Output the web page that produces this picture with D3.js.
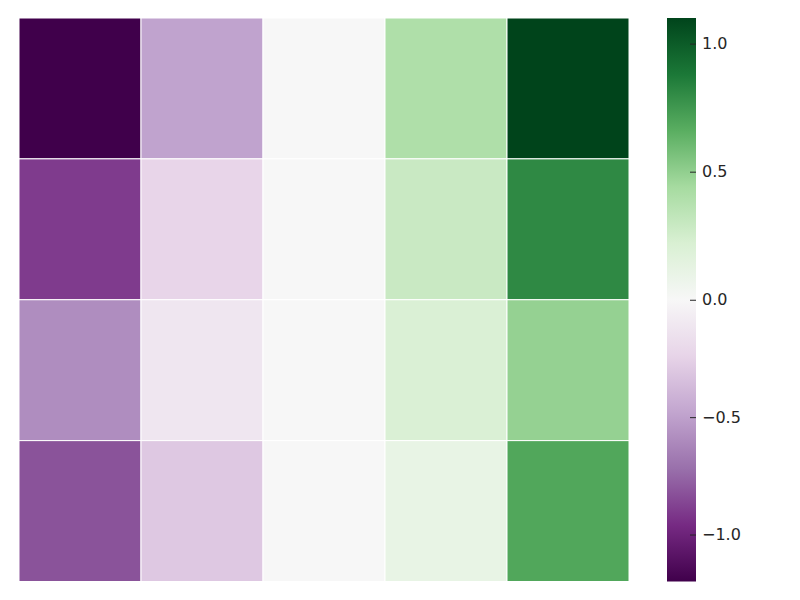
<!DOCTYPE html>
<html>
<head>
<meta charset="utf-8">
<script src="https://cdn.jsdelivr.net/npm/d3@7"></script>
<style>
  body { margin: 0; background: #fff; }
  text { font-family: "DejaVu Sans", sans-serif; }
</style>
</head>
<body>
<svg id="chart" width="800" height="600"></svg>
<script>
// ---- data ----
const rows = ["r0", "r1", "r2", "r3"];
const cols = ["c0", "c1", "c2", "c3", "c4"];
const row0 = [-1.2, -0.49, 0.0, 0.40, 1.1];
const row1 = [-0.90, -0.23, 0.0, 0.29, 0.81];
const row2 = [-0.59, -0.12, 0.0, 0.21, 0.49];
const row3 = [-0.82, -0.30, 0.0, 0.11, 0.69];
const values = [row0, row1, row2, row3];
const vmin = -1.2, vcenter = 0, vmax = 1.1;
const cbTicks = [-1.0, -0.5, 0.0, 0.5, 1.0];
const prgn = ["#40004b", "#762a83", "#9970ab", "#c2a5cf", "#e7d4e8", "#f7f7f7",
              "#d9f0d3", "#a6dba0", "#5aae61", "#1b7837", "#00441b"];

// ---- scales ----
const svg = d3.select("#chart");
const hm = { left: 19, right: 629, top: 18, bottom: 581.5 };
const cb = { left: 667, right: 696, top: 18, bottom: 581.5 };

const x = d3.scaleBand().domain(cols).range([hm.left, hm.right]);
const y = d3.scaleBand().domain(rows).range([hm.top, hm.bottom]);

const norm = d3.scaleLinear().domain([vmin, vcenter, vmax]).range([0, 0.5, 1]).clamp(true);
const cmap = d3.scaleLinear().domain(d3.range(11).map(i => i / 10)).range(prgn)
  .interpolate(d3.interpolateRgb);
const color = v => cmap(norm(v));

// ---- heatmap ----
const cells = [];
values.forEach((r, i) => r.forEach((v, j) => cells.push({ row: rows[i], col: cols[j], v })));
svg.append("g").selectAll("rect").data(cells).join("rect")
  .attr("x", d => x(d.col))
  .attr("y", d => y(d.row))
  .attr("width", x.bandwidth())
  .attr("height", y.bandwidth())
  .attr("fill", d => color(d.v))
  .attr("stroke", "#ffffff")
  .attr("stroke-width", 1);

// ---- colorbar ----
const defs = svg.append("defs");
const grad = defs.append("linearGradient").attr("id", "cbgrad")
  .attr("x1", 0).attr("y1", 1).attr("x2", 0).attr("y2", 0);
grad.selectAll("stop").data(prgn).join("stop")
  .attr("offset", (d, i) => (i / 10 * 100) + "%")
  .attr("stop-color", d => d);

svg.append("rect")
  .attr("x", cb.left).attr("y", cb.top)
  .attr("width", cb.right - cb.left).attr("height", cb.bottom - cb.top)
  .attr("fill", "url(#cbgrad)");

const cy = d3.scaleLinear().domain([vmin, vcenter, vmax])
  .range([cb.bottom, (cb.top + cb.bottom) / 2, cb.top]);

const axis = d3.axisRight(cy).tickValues(cbTicks)
  .tickFormat(d => d3.format(".1f")(d).replace("-", "\u2212"))
  .tickSize(6).tickPadding(5);

const ag = svg.append("g").attr("transform", `translate(${cb.right - 6},0)`).call(axis);
ag.select(".domain").remove();
ag.selectAll(".tick line").attr("stroke", "#262626").attr("stroke-width", 1);
ag.selectAll(".tick text").attr("fill", "#262626").attr("font-size", 16)
  .attr("x", 12)
  .style("font-family", "DejaVu Sans, sans-serif");
</script>
</body>
</html>
